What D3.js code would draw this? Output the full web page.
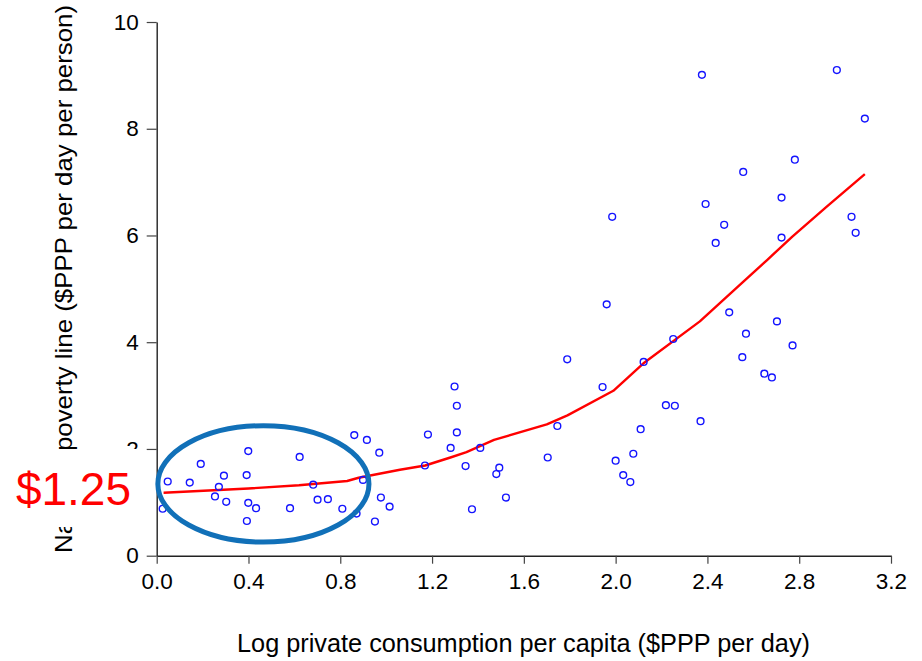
<!DOCTYPE html>
<html>
<head>
<meta charset="utf-8">
<script src="https://cdn.jsdelivr.net/npm/d3@7"></script>
<style>
  html, body { margin: 0; padding: 0; background: #fff; }
  svg { display: block; font-family: "Liberation Sans", Arial, sans-serif; }
</style>
</head>
<body>
<svg id="chart" width="922" height="661"></svg>
<script>
// ---- Data ----
const pointX = [0.026,0.048,0.144,0.192,0.254,0.271,0.293,0.303,0.392,0.399,0.399,0.393,0.433,0.581,0.623,0.682,0.701,0.746,0.809,0.861,0.871,0.899,0.916,0.970,0.977,0.951,1.015,1.182,1.169,1.298,1.308,1.308,1.281,1.410,1.346,1.493,1.480,1.522,1.374,1.704,1.746,1.789,1.943,2.109,2.077,2.122,2.000,2.033,2.064,1.985,1.961,2.251,2.219,2.258,2.370,2.556,2.392,2.473,2.436,2.723,2.723,2.781,3.086,3.028,3.046,2.495,2.568,2.703,2.552,2.771,2.648,2.681,2.376,2.964];
const pointY = [0.88,1.39,1.37,1.72,1.11,1.29,1.50,1.01,1.51,1.96,0.99,0.65,0.89,0.89,1.85,1.33,1.05,1.06,0.88,2.26,0.79,1.42,2.17,1.93,1.09,0.64,0.92,2.27,1.69,3.17,2.81,2.31,2.02,2.02,1.68,1.65,1.53,1.09,0.87,1.84,2.43,3.68,3.16,2.37,1.91,3.63,1.78,1.51,1.38,6.35,4.71,4.06,2.82,2.81,2.52,7.19,6.59,6.20,5.86,6.71,5.96,7.42,8.19,6.35,6.05,4.56,4.16,4.39,3.72,3.94,3.41,3.34,9.01,9.10];

const fitX = [0.03,0.40,0.62,0.83,0.88,1.06,1.17,1.28,1.35,1.47,1.70,1.79,1.99,2.12,2.367,2.54,2.66,2.77,2.92,3.086];
const fitY = [1.18,1.26,1.32,1.40,1.46,1.61,1.69,1.84,1.94,2.17,2.46,2.63,3.09,3.60,4.39,5.07,5.54,5.98,6.54,7.15];

const xTicks = [0.0,0.4,0.8,1.2,1.6,2.0,2.4,2.8,3.2];
const yTicks = [0,2,4,6,8,10];

const xTitle = "Log private consumption per capita ($PPP per day)";
const yTitle = "National poverty line ($PPP per day per person)";
const markLabel = "$1.25";
const markValue = 1.25;
// highlighted region (data units): center and radii
const ellipseCenter = [0.465, 1.345];
const ellipseRadii = [0.46, 1.09];

// ---- Chart ----
const svg = d3.select("#chart");
const x = d3.scaleLinear().domain([0, 3.2]).range([156.7, 891]);
const y = d3.scaleLinear().domain([0, 10]).range([555.7, 22]);

// axes
const yAxis = svg.append("g")
  .attr("transform", `translate(${x(0)},0)`)
  .call(d3.axisLeft(y).tickValues(yTicks).tickSize(10).tickSizeOuter(0).tickPadding(8).tickFormat(d3.format("d")));
const xAxis = svg.append("g")
  .attr("transform", `translate(0,${y(0)})`)
  .call(d3.axisBottom(x).tickValues(xTicks).tickSize(8).tickSizeOuter(0).tickPadding(9).tickFormat(d3.format(".1f")));

[xAxis, yAxis].forEach(g => {
  g.select(".domain").attr("stroke", "#222").attr("stroke-width", 1.4);
  g.selectAll(".tick line").attr("stroke", "#444").attr("stroke-width", 1.2);
  g.selectAll(".tick text").attr("fill", "#000").style("font-size", "22.5px")
    .style("font-family", "'Liberation Sans', Arial, sans-serif");
});

// x title
svg.append("text")
  .attr("x", 523.5).attr("y", 652)
  .attr("text-anchor", "middle")
  .attr("textLength", 573).attr("lengthAdjust", "spacingAndGlyphs")
  .style("font-size", "25px").attr("fill", "#000")
  .text(xTitle);

// y title
svg.append("text")
  .attr("transform", "translate(72,279) rotate(-90)")
  .attr("text-anchor", "middle")
  .attr("textLength", 548).attr("lengthAdjust", "spacingAndGlyphs")
  .style("font-size", "24px").attr("fill", "#000")
  .text(yTitle);

// fitted line
const line = d3.line().x(d => x(d[0])).y(d => y(d[1]));
svg.append("path")
  .datum(fitX.map((v, i) => [v, fitY[i]]))
  .attr("d", line)
  .attr("fill", "none")
  .attr("stroke", "#ff0000")
  .attr("stroke-width", 2.4)
  .attr("stroke-linejoin", "round");

// points
svg.append("g").selectAll("circle")
  .data(pointX.map((v, i) => [v, pointY[i]]))
  .join("circle")
  .attr("cx", d => x(d[0]))
  .attr("cy", d => y(d[1]))
  .attr("r", 3.4)
  .attr("fill", "none")
  .attr("stroke", "#1414ff")
  .attr("stroke-width", 1.4);

// highlight ellipse
svg.append("ellipse")
  .attr("cx", x(ellipseCenter[0]))
  .attr("cy", y(ellipseCenter[1]))
  .attr("rx", x(ellipseRadii[0]) - x(0))
  .attr("ry", y(0) - y(ellipseRadii[1]))
  .attr("fill", "none")
  .attr("stroke", "#1170b8")
  .attr("stroke-width", 5);

// $1.25 label with white backing box
svg.append("rect")
  .attr("x", 0).attr("y", 449)
  .attr("width", 140).attr("height", 78)
  .attr("fill", "#fff");
svg.append("text")
  .attr("x", 131).attr("y", y(markValue))
  .attr("text-anchor", "end")
  .attr("dominant-baseline", "central")
  .style("font-size", "46px")
  .attr("fill", "#ff0000")
  .text(markLabel);
</script>
</body>
</html>
